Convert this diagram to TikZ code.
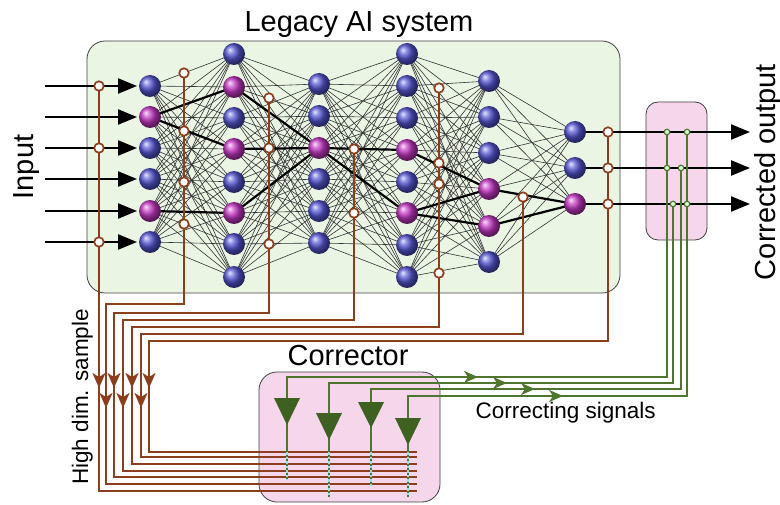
\documentclass[tikz,border=0pt]{standalone}
\usepackage{fontspec}
\setmainfont{Liberation Sans}
\usetikzlibrary{arrows.meta}
\definecolor{boxgreen}{RGB}{234,245,228}
\definecolor{boxpink}{RGB}{245,214,234}
\definecolor{sbrown}{RGB}{140,62,28}
\definecolor{sgreen}{RGB}{78,118,46}
\definecolor{tgreen}{RGB}{62,96,32}
\definecolor{nblue}{RGB}{85,85,210}
\definecolor{nmag}{RGB}{195,55,195}
\definecolor{dotcyan}{RGB}{140,225,225}
\begin{document}
\begin{tikzpicture}[x=1pt,y=-1pt,
  bigbox/.style={rounded corners=18pt, draw=black!75, line width=0.8pt},
  neuron/.style={circle, minimum size=22pt, inner sep=0pt, shading=ball},
  conn/.style={draw=black!80, line width=0.6pt},
  hot/.style={draw=black, line width=2.2pt},
  tap/.style={circle, draw=sbrown, fill=white, line width=1.7pt, minimum size=9.5pt, inner sep=0pt},
  gtap/.style={circle, draw=sgreen, fill=green!15!white, line width=1.2pt, minimum size=5.5pt, inner sep=0pt},
  bline/.style={draw=sbrown, line width=2.3pt},
  gline/.style={draw=sgreen, line width=2.2pt},
  iotip/.style={draw=black, line width=2.3pt, -{Triangle[length=19pt,width=15pt]}},
  btip/.style={bline, -{Stealth[length=15pt,width=13pt,inset=4pt]}},
  gtip/.style={gline, -{Stealth[length=14pt,width=12pt,inset=4pt]}},
  dots/.style={draw=dotcyan, line width=1.8pt, dash pattern=on 2.5pt off 2pt},
  big/.style={font=\fontsize{29pt}{29pt}\selectfont},
  small/.style={font=\fontsize{22.5pt}{22.5pt}\selectfont}
]
\useasboundingbox (0,0) rectangle (780,505);

% boxes
\draw[bigbox, fill=boxgreen] (87,41) rectangle (620,293);
\draw[bigbox, fill=boxpink, rounded corners=12pt] (646,102) rectangle (707,240);
\draw[bigbox, fill=boxpink] (259,372) rectangle (440,502);

% labels
\node[big, anchor=base] (title) at (359,32) {Legacy AI system};
\node[big, anchor=base] (corrlabel) at (348,366) {Corrector};
\node[big, anchor=base, rotate=90] (inlabel) at (34,167) {Input};
\node[big, anchor=base, rotate=90] (outlabel) at (775,172) {Corrected output};
\node[small, anchor=base, rotate=90] (hdlabel) at (88,397) {High dim. sample};
\node[small, anchor=base west] (cslabel) at (472,418) {Correcting signals};

% neuron positions
\foreach \y [count=\i] in {86,117,148,179,211,242} \coordinate (a\i) at (150,\y);
\foreach \y [count=\i] in {54,87,118,149,182,213,244,277} \coordinate (b\i) at (234,\y);
\foreach \y [count=\i] in {84,116,148,179,211,243} \coordinate (c\i) at (319,\y);
\foreach \y [count=\i] in {54,86,118,150,182,213,245,277} \coordinate (d\i) at (407,\y);
\foreach \y [count=\i] in {81,117,153,189,226,262} \coordinate (e\i) at (489,\y);
\foreach \y [count=\i] in {132,168,204} \coordinate (f\i) at (575,\y);

% full connections
\foreach \i in {1,...,6}{\foreach \j in {1,...,8}{\draw[conn] (a\i) -- (b\j);}}
\foreach \i in {1,...,8}{\foreach \j in {1,...,6}{\draw[conn] (b\i) -- (c\j);}}
\foreach \i in {1,...,6}{\foreach \j in {1,...,8}{\draw[conn] (c\i) -- (d\j);}}
\foreach \i in {1,...,8}{\foreach \j in {1,...,6}{\draw[conn] (d\i) -- (e\j);}}
\foreach \i in {1,...,6}{\foreach \j in {1,...,3}{\draw[conn] (e\i) -- (f\j);}}

% highlighted path
\foreach \p/\q in {a2/b2,a2/b4,a5/b6,b2/c3,b4/c3,b6/c3,c3/d4,c3/d6,d4/e4,d6/e4,d6/e5,e4/f3,e5/f3}
  \draw[hot] (\p) -- (\q);

% input and output arrows
\foreach \y [count=\i] in {86,117,148,179,211,242}{
  \coordinate (ins\i) at (45,\y);
  \coordinate (ine\i) at (137,\y);
  \draw[iotip] (ins\i) -- (ine\i);
}
\foreach \y [count=\i] in {132,168,204}{
  \coordinate (oute\i) at (750,\y);
  \draw[iotip] (f\i) -- (oute\i);
}

% brown sampling lines
\draw[bline] (99,86) -- (99,491) -- (417,491);
\draw[bline] (184,73) -- (184,304) -- (106,304) -- (106,484) -- (417,484);
\draw[bline] (269,98) -- (269,313) -- (114,313) -- (114,477) -- (417,477);
\draw[bline] (354,149) -- (354,320) -- (123,320) -- (123,471) -- (417,471);
\draw[bline] (439,88) -- (439,327) -- (132,327) -- (132,464) -- (417,464);
\draw[bline] (523,197) -- (523,334) -- (141,334) -- (141,457) -- (417,457);
\draw[bline] (608,132) -- (608,341) -- (149,341) -- (149,452) -- (417,452);
\foreach \x in {99,114,132,149} \draw[btip] (\x,372) -- (\x,388);
\foreach \x in {106,123,141} \draw[btip] (\x,392) -- (\x,408);

% taps
\foreach \x/\y [count=\k] in {99/86,99/148,99/242,184/73,184/131,184/182,184/224,
  269/98,269/148,269/244,354/149,354/213,439/88,439/163,439/184,439/273,
  523/197,608/132,608/168,608/204}
  \node[tap] (tap\k) at (\x,\y) {};

% green correcting lines
\draw[gline] (667,132) -- (667,377) -- (287,377) -- (287,480);
\draw[gline] (673,204) -- (673,383) -- (329,383) -- (329,497);
\draw[gline] (681,168) -- (681,389) -- (371,389) -- (371,486);
\draw[gline] (687,132) -- (687,396) -- (408,396) -- (408,497);
\draw[gtip] (462,377) -- (478,377);
\draw[gtip] (491,383) -- (507,383);
\draw[gtip] (519,389) -- (535,389);
\draw[gtip] (547,396) -- (563,396);
\foreach \x/\b/\t in {287/398/425, 329/413/440, 371/402/428, 408/418/445}
  \fill[tgreen] (\x-13,\b) -- (\x+13,\b) -- (\x,\t) -- cycle;
\draw[dots] (287,452) -- (287,480);
\draw[dots] (329,452) -- (329,497);
\draw[dots] (371,452) -- (371,486);
\draw[dots] (408,452) -- (408,497);
\foreach \x/\y [count=\k] in {667/132,667/168,687/132,687/204,673/204,681/168}
  \node[gtap] (gtap\k) at (\x,\y) {};

% neurons
\foreach \i/\c in {1/nblue,2/nmag,3/nblue,4/nblue,5/nmag,6/nblue}
  \node[neuron, ball color=\c] (A\i) at (a\i) {};
\foreach \i/\c in {1/nblue,2/nmag,3/nblue,4/nmag,5/nblue,6/nmag,7/nblue,8/nblue}
  \node[neuron, ball color=\c] (B\i) at (b\i) {};
\foreach \i/\c in {1/nblue,2/nblue,3/nmag,4/nblue,5/nblue,6/nblue}
  \node[neuron, ball color=\c] (C\i) at (c\i) {};
\foreach \i/\c in {1/nblue,2/nblue,3/nblue,4/nmag,5/nblue,6/nmag,7/nblue,8/nblue}
  \node[neuron, ball color=\c] (D\i) at (d\i) {};
\foreach \i/\c in {1/nblue,2/nblue,3/nblue,4/nmag,5/nmag,6/nblue}
  \node[neuron, ball color=\c] (E\i) at (e\i) {};
\foreach \i/\c in {1/nblue,2/nblue,3/nmag}
  \node[neuron, ball color=\c] (F\i) at (f\i) {};
\end{tikzpicture}
\end{document}
